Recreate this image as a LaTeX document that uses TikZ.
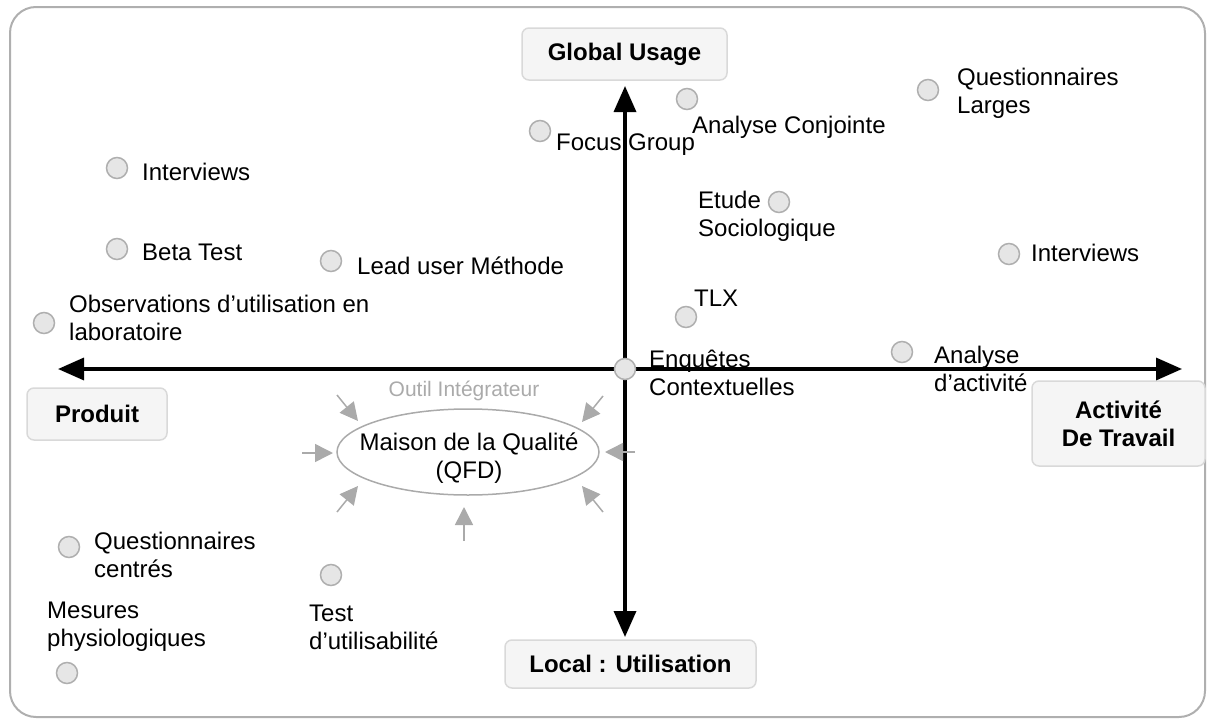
\documentclass[tikz,border=0pt]{standalone}
\usepackage{fontspec}
\setmainfont{Liberation Sans}
\usetikzlibrary{arrows.meta,shapes.geometric}
\definecolor{boxfill}{HTML}{F5F5F5}
\definecolor{boxline}{HTML}{D9D9D9}
\definecolor{dotfill}{HTML}{E6E6E6}
\definecolor{dotline}{HTML}{AFAFAF}
\definecolor{softgray}{HTML}{AAAAAA}
\tikzset{
  every node/.style={font=\fontsize{24}{28}\selectfont, inner sep=0pt},
  axisbox/.style={draw=boxline, fill=boxfill, line width=1.5pt, rounded corners=7pt, font=\fontsize{24}{28}\selectfont\bfseries, align=center},
  dot/.style={circle, draw=dotline, fill=dotfill, line width=1.5pt, minimum size=21pt},
  lbl/.style={anchor=west, align=left},
  axis/.style={line width=3.5pt, -{Triangle[length=26pt,width=22pt]}},
  feed/.style={softgray, line width=1.5pt, -{Triangle[length=18pt,width=18pt]}},
}
\begin{document}
\begin{tikzpicture}[x=1pt,y=-1pt]
\useasboundingbox (0,0) rectangle (1208,720);
\draw[dotline, line width=2pt, rounded corners=26pt] (10,7) rectangle (1205,717);
% axis boxes
\node[axisbox, minimum width=205pt, minimum height=52pt] (glob) at (624.5,54) {Global Usage};
\node[axisbox, minimum width=140pt, minimum height=52pt] (prod) at (97,414) {Produit};
\node[axisbox, minimum width=173pt, minimum height=85pt] (act) at (1118.5,423.5) {Activité\\De Travail};
\node[axisbox, minimum width=251pt, minimum height=48pt] (loc) at (630.5,664) {Local : Utilisation};
% axes
\coordinate (ctr) at (625,369);
\coordinate (up) at (625,86);
\coordinate (down) at (625,637);
\coordinate (left) at (58,369);
\coordinate (right) at (1182,369);
\draw[axis] (ctr) -- (up);
\draw[axis] (ctr) -- (down);
\draw[axis] (ctr) -- (left);
\draw[axis] (ctr) -- (right);
% QFD
\node[ellipse, draw=softgray, line width=1.5pt, minimum width=262pt, minimum height=86pt] (qfd) at (468,452) {};
\node[align=center] (qfdt) at (469,458) {Maison de la Qualité\\(QFD)};
\node[text=softgray, font=\fontsize{21}{25}\selectfont] (outil) at (464,391) {Outil Intégrateur};
\coordinate (f1s) at (337,395); \coordinate (f1e) at (358,421);
\coordinate (f2s) at (302,453); \coordinate (f2e) at (333,453);
\coordinate (f3s) at (337,512); \coordinate (f3e) at (358,486);
\coordinate (f4s) at (464,541); \coordinate (f4e) at (464,507);
\coordinate (f5s) at (603,396); \coordinate (f5e) at (582,422);
\coordinate (f6s) at (635,452); \coordinate (f6e) at (605,452);
\coordinate (f7s) at (603,512); \coordinate (f7e) at (582,486);
\foreach \i in {1,...,7} \draw[feed] (f\i s) -- (f\i e);
% methods
\node[dot] (d1) at (687,99) {};
\node[lbl] (t1) at (692,127) {Analyse Conjointe};
\node[dot] (d2) at (928,90) {};
\node[lbl] (t2) at (957,93) {Questionnaires\\Larges};
\node[dot] (d3) at (540,131) {};
\node[lbl] (t3) at (556,145) {Focus Group};
\node[dot] (d4) at (117,168) {};
\node[lbl] (t4) at (142,172) {Interviews};
\node[dot] (d5) at (117,249) {};
\node[lbl] (t5) at (142,252) {Beta Test};
\node[dot] (d6) at (331,261) {};
\node[lbl] (t6) at (357,266) {Lead user Méthode};
\node[dot] (d7) at (779,202) {};
\node[lbl] (t7) at (698,216) {Etude\\Sociologique};
\node[dot] (d8) at (1009,254) {};
\node[lbl] (t8) at (1031,253) {Interviews};
\node[dot] (d9) at (44,323) {};
\node[lbl] (t9) at (69,318) {Observations d’utilisation en\\laboratoire};
\node[dot] (d10) at (686,317) {};
\node[lbl] (t10) at (694,298) {TLX};
\node[dot] (d11) at (ctr) {};
\node[lbl] (t11) at (649,373) {Enquêtes\\Contextuelles};
\node[dot] (d12) at (902,352) {};
\node[lbl] (t12) at (934,369) {Analyse\\d’activité};
\node[dot] (d13) at (69,547) {};
\node[lbl] (t13) at (94,555) {Questionnaires\\centrés};
\node[dot] (d14) at (331,575) {};
\node[lbl] (t14) at (309,627) {Test\\d’utilisabilité};
\node[dot] (d15) at (67,673) {};
\node[lbl] (t15) at (47,627) {Mesures\\physiologiques};
\end{tikzpicture}
\end{document}
